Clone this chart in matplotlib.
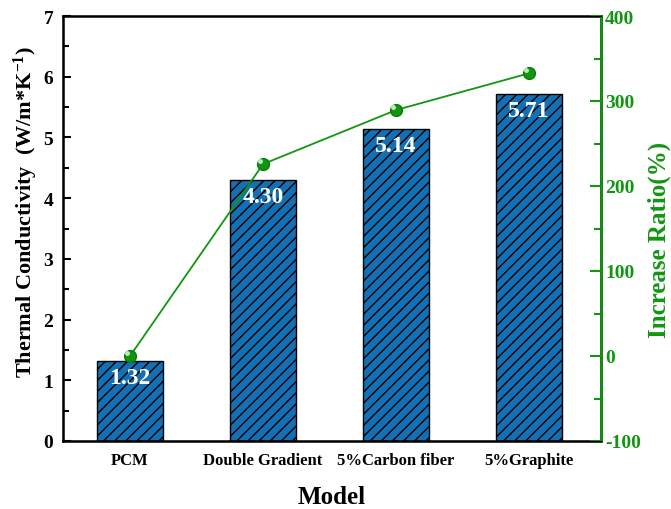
import numpy as np
import matplotlib.pyplot as plt
from matplotlib.ticker import MultipleLocator

models = ['PCM', 'Double Gradient', '5%Carbon fiber', '5%Graphite']
conductivity = [1.32, 4.30, 5.14, 5.71]
increase_ratio = [0.0, 225.8, 289.4, 332.6]

plt.rcParams['font.family'] = 'Liberation Serif'
plt.rcParams['font.weight'] = 'bold'
plt.rcParams['hatch.linewidth'] = 1.0
plt.rcParams['axes.unicode_minus'] = False
plt.rcParams['mathtext.fontset'] = 'custom'
plt.rcParams['mathtext.rm'] = 'Liberation Serif:bold'
plt.rcParams['mathtext.it'] = 'Liberation Serif:bold'

bar_color = '#1470b4'
green = '#129612'

fig = plt.figure(figsize=(6.71, 5.1), dpi=100)
ax = fig.add_axes([63 / 671, 68 / 510, 538 / 671, 425 / 510])
x = np.arange(len(models))

ax.bar(x, conductivity, width=0.5, color=bar_color, edgecolor='black',
       linewidth=1.0, hatch='///', zorder=2)
for xi, v in zip(x, conductivity):
    ax.text(xi, v - 0.1, '%.2f' % v, ha='center', va='top', color='white',
            fontsize=17, fontweight='bold', zorder=3)

ax.set_xlim(-0.504, 3.54)
ax.set_ylim(0, 7)
ax.set_xticks(x)
ax.set_xticklabels(models, fontsize=12, fontweight='bold')
ax.yaxis.set_major_locator(MultipleLocator(1))
ax.yaxis.set_minor_locator(MultipleLocator(0.5))
ax.tick_params(axis='y', which='both', direction='in', labelsize=14, width=1.5, pad=7)
ax.tick_params(axis='y', which='major', length=6)
ax.tick_params(axis='y', which='minor', length=4)
ax.tick_params(axis='x', direction='in', length=4, width=1.5, pad=8)
for lab in ax.get_yticklabels():
    lab.set_fontweight('bold')
ax.set_xlabel('Model', fontsize=18, fontweight='bold', labelpad=12)
ax.set_ylabel('Thermal Conductivity  (W/m*K$^{-1}$)', fontsize=16,
              fontweight='bold')
ax.yaxis.set_label_coords(-0.042, 0.54)
for s in ax.spines.values():
    s.set_linewidth(1.8)

ax2 = ax.twinx()
ax2.plot(x, increase_ratio, color=green, linewidth=1.3, marker='o',
         markersize=8.5, markerfacecolor=green, markeredgecolor='#0b7a0b', zorder=4)
ax2.plot(x - 0.02, np.array(increase_ratio) + 4, linestyle='none', marker='o',
         markersize=2.5, color='#b8f0b8', zorder=5)
ax2.set_ylim(-100, 400)
ax2.yaxis.set_major_locator(MultipleLocator(100))
ax2.yaxis.set_minor_locator(MultipleLocator(50))
ax2.tick_params(axis='y', which='both', direction='in', colors=green,
                labelsize=14, width=1.5, pad=3)
ax2.tick_params(axis='y', which='major', length=8)
ax2.tick_params(axis='y', which='minor', length=5)
for lab in ax2.get_yticklabels():
    lab.set_fontweight('bold')
ax2.spines['right'].set_color(green)
ax2.spines['right'].set_linewidth(1.8)
ax2.set_ylabel('Increase Ratio(%)', color=green, fontsize=18,
               fontweight='bold')
ax2.yaxis.set_label_coords(1.087, 0.475)

fig.savefig('out.png', dpi=100)
